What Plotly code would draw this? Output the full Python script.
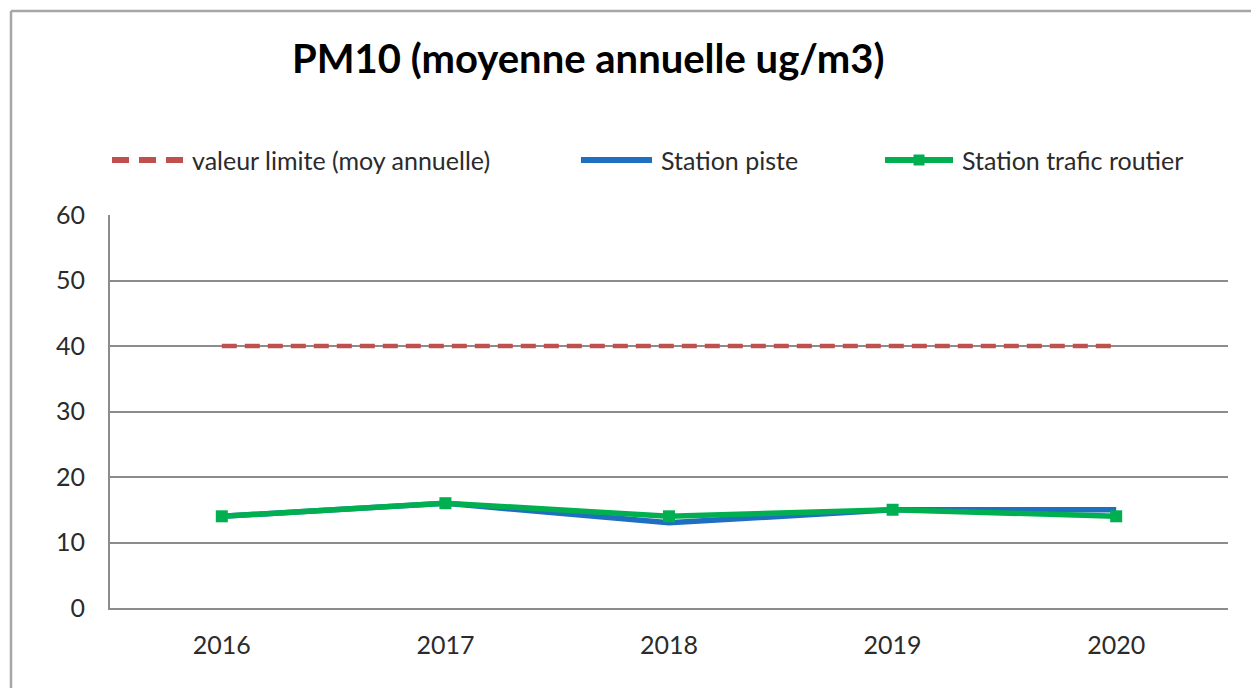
import plotly.graph_objects as go

years = ["2016", "2017", "2018", "2019", "2020"]
valeur_limite = [40, 40, 40, 40, 40]
station_piste = [14, 16, 13, 15, 15]
station_trafic = [14, 16, 14, 15, 14]
y_ticks = [0, 10, 20, 30, 40, 50, 60]

names = ["valeur limite (moy annuelle)", "Station piste", "Station trafic routier"]
colors = ["#C0504D", "#1F6FC0", "#00B050"]

W, H = 1251, 688
L, R, T, B = 110, 1228, 215, 608
FONT = "Lato"
TXT = "#2B2B2B"

def px(x):
    return (x - L) / (R - L)

def py(y):
    return (B - y) / (B - T)

fig = go.Figure()
fig.add_trace(go.Scatter(x=years, y=valeur_limite, mode="lines", name=names[0],
                         line=dict(color=colors[0], width=4.5, dash="15px,8px"),
                         showlegend=False))
fig.add_trace(go.Scatter(x=years, y=station_piste, mode="lines", name=names[1],
                         line=dict(color=colors[1], width=5.5), showlegend=False))
fig.add_trace(go.Scatter(x=years, y=station_trafic, mode="lines+markers", name=names[2],
                         line=dict(color=colors[2], width=5.5),
                         marker=dict(symbol="square", size=12, color=colors[2]),
                         showlegend=False))

shapes = []
annotations = []
# outer frame
shapes.append(dict(type="line", xref="paper", yref="paper", x0=px(11), x1=px(11),
                   y0=py(11), y1=py(700), line=dict(color="#A6A6A6", width=2.5)))
shapes.append(dict(type="line", xref="paper", yref="paper", x0=px(11), x1=px(1260),
                   y0=py(11), y1=py(11), line=dict(color="#A6A6A6", width=2.5)))

# manual legend
leg_y = 160
leg_items = [(112, 183, 190), (581, 652, 659), (885, 953, 960)]
for i, (s0, s1, tx) in enumerate(leg_items):
    dash = "17px,10px" if i == 0 else "solid"
    shapes.append(dict(type="line", xref="paper", yref="paper", x0=px(s0), x1=px(s1),
                       y0=py(leg_y), y1=py(leg_y),
                       line=dict(color=colors[i], width=6, dash=dash)))
    if i == 2:
        m = (s0 + s1) / 2
        shapes.append(dict(type="rect", xref="paper", yref="paper",
                           x0=px(m - 5.5), x1=px(m + 5.5), y0=py(leg_y - 5.5), y1=py(leg_y + 5.5),
                           fillcolor=colors[i], line=dict(width=0)))
    annotations.append(dict(xref="paper", yref="paper", x=px(tx), y=py(leg_y),
                            xanchor="left", yanchor="middle", showarrow=False,
                            text=names[i], font=dict(family=FONT, size=25, color=TXT)))

annotations.append(dict(xref="paper", yref="paper", x=px(588), y=py(58),
                        xanchor="center", yanchor="middle", showarrow=False,
                        text="<b>PM10 (moyenne annuelle ug/m3)</b>",
                        font=dict(family=FONT, size=40, color="#000000")))

fig.update_layout(
    width=W, height=H,
    margin=dict(l=L, r=W - R, t=T, b=H - B, pad=0),
    paper_bgcolor="white", plot_bgcolor="white",
    shapes=shapes, annotations=annotations,
    font=dict(family=FONT, size=25, color=TXT),
    xaxis=dict(type="category", range=[-0.5, 4.5], showgrid=False,
               showline=True, linecolor="#8C8C8C", linewidth=2,
               ticks="", ticklabelstandoff=14, tickfont=dict(size=25, color=TXT),
               zeroline=False, fixedrange=True),
    yaxis=dict(range=[0, 60], tickvals=y_ticks, showgrid=True, gridcolor="#8C8C8C",
               gridwidth=2, showline=True, linecolor="#8C8C8C", linewidth=2,
               ticks="", ticklabelstandoff=18, tickfont=dict(size=25, color=TXT),
               zeroline=False, fixedrange=True),
    showlegend=False,
)

fig.write_html("out.html", config={"displayModeBar": False},
               post_script="document.body.style.margin='0';document.body.style.padding='0';")
